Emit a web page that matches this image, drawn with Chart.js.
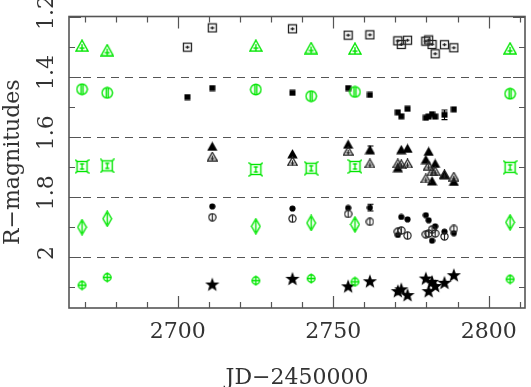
<!DOCTYPE html>
<html>
<head>
<meta charset="utf-8">
<script src="https://cdn.jsdelivr.net/npm/chart.js@4/dist/chart.umd.min.js"></script>
<style>
  html, body { margin: 0; padding: 0; background: #ffffff; }
  #c { display: block; }
</style>
</head>
<body>
<canvas id="c" width="531" height="387"></canvas>
<script>
// ---------------- DATA ----------------
// Comparison star epochs (JD-2450000)
const compJD = [2669.2, 2677.3, 2725.1, 2742.9, 2757.0, 2806.9];
// Comparison stars (green), one per band
const compTri  = [1.297, 1.312, 1.297, 1.305, 1.307, 1.306];
const compCirc = [1.442, 1.454, 1.443, 1.465, 1.451, 1.457];
const compSq   = [1.699, 1.697, 1.709, 1.705, 1.699, 1.702];
const compDiam = [1.901, 1.873, 1.898, 1.887, 1.892, 1.885];
const compPlus = [2.094, 2.068, 2.079, 2.072, 2.083, 2.074];

// Target epochs (JD-2450000)
const targJD = [2703.1, 2711.1, 2736.9, 2754.8, 2761.8, 2770.8, 2771.9, 2773.9,
                2779.8, 2780.7, 2781.8, 2782.8, 2785.8, 2788.8];
// Target magnitudes (black), offset bands
const openSq   = [1.302, 1.238, 1.241, 1.262, 1.261, 1.281, 1.293, 1.279,
                  1.282, 1.278, 1.293, 1.324, 1.294, 1.304];
const fillSq   = [1.468, 1.438, 1.454, 1.438, 1.461, 1.519, 1.532, 1.507,
                  1.537, 1.533, 1.525, 1.533, 1.527, 1.509];
const fillSqErr= [0, 0, 0, 0, 0, 0, 0, 0, 0, 0, 0, 0, 0.016, 0];
const fillTri  = [null, 1.632, 1.657, 1.625, 1.643, 1.703, 1.643, 1.639,
                  1.676, 1.649, 1.747, 1.689, 1.727, 1.749];
const fillTriErr = [0, 0, 0, 0, 0.012, 0, 0, 0, 0, 0, 0, 0, 0, 0];
const openTri  = [null, 1.666, 1.682, 1.647, 1.689, 1.689, 1.692, 1.689,
                  1.739, 1.696, 1.715, 1.715, 1.725, 1.733];
const fillCirc = [null, 1.832, 1.839, 1.837, 1.836, 1.927, 1.867, 1.875,
                  1.861, 1.878, 1.946, 1.898, 1.916, 1.921];
const fillCircErr = [0, 0, 0, 0, 0.011, 0, 0, 0, 0, 0, 0, 0, 0, 0];
const openCirc = [null, 1.868, 1.873, 1.857, 1.883, 1.916, 1.912, 1.929,
                  1.925, 1.922, 1.909, 1.922, 1.932, 1.907];
const stars    = [null, 2.092, 2.073, 2.098, 2.081, 2.114, 2.108, 2.127,
                  2.072, 2.114, 2.083, 2.097, 2.086, 2.061];

// Axis ticks and labels
const xMajor = [2700, 2750, 2800];
const xMinor = [2670, 2680, 2690, 2710, 2720, 2730, 2740, 2760, 2770, 2780, 2790, 2810];
const yMajor = [1.2, 1.4, 1.6, 1.8, 2.0];
const yMajorLabels = ["1.2", "1.4", "1.6", "1.8", "2"];
const yMinor = [1.3, 1.5, 1.7, 1.9, 2.1];
const bandSeparators = [1.4, 1.6, 1.8, 2.0];
const xTitle = "JD\u22122450000";
const yTitle = "R\u2212magnitudes";

// ---------------- MARKERS ----------------
const GREEN = 'rgb(0,230,0)';
function mk(w, h, draw) {
  const c = document.createElement('canvas');
  c.width = w; c.height = h;
  const g = c.getContext('2d');
  draw(g, w, h);
  return c;
}
const mGreenTri = mk(14, 13, g => {
  g.strokeStyle = GREEN; g.lineWidth = 1.4;
  g.beginPath(); g.moveTo(7, 1); g.lineTo(13, 12); g.lineTo(1, 12); g.closePath(); g.stroke();
  g.beginPath(); g.moveTo(7, 5); g.lineTo(7, 12); g.moveTo(4.5, 9); g.lineTo(9.5, 9); g.stroke();
});
const mGreenCirc = mk(13, 13, g => {
  g.strokeStyle = GREEN; g.lineWidth = 1.4;
  g.beginPath(); g.arc(6.5, 6.5, 5.2, 0, Math.PI * 2); g.stroke();
  g.beginPath(); g.moveTo(5.5, 2); g.lineTo(5.5, 11); g.moveTo(7.5, 2); g.lineTo(7.5, 11); g.stroke();
});
const mGreenSq = mk(15, 15, g => {
  g.strokeStyle = GREEN; g.lineWidth = 1.4;
  g.strokeRect(2.5, 2.5, 10, 10);
  g.beginPath();
  g.moveTo(0.5, 0.5); g.lineTo(2.5, 2.5); g.moveTo(14.5, 0.5); g.lineTo(12.5, 2.5);
  g.moveTo(0.5, 14.5); g.lineTo(2.5, 12.5); g.moveTo(14.5, 14.5); g.lineTo(12.5, 12.5);
  g.moveTo(7.5, 5); g.lineTo(7.5, 10); g.moveTo(5.5, 5); g.lineTo(9.5, 5); g.moveTo(5.5, 10); g.lineTo(9.5, 10);
  g.stroke();
});
const mGreenDiam = mk(11, 17, g => {
  g.strokeStyle = GREEN; g.lineWidth = 1.4;
  g.beginPath(); g.moveTo(5.5, 1); g.lineTo(9.8, 8.5); g.lineTo(5.5, 16); g.lineTo(1.2, 8.5); g.closePath(); g.stroke();
  g.beginPath(); g.moveTo(5.5, 3); g.lineTo(5.5, 14); g.stroke();
});
const mGreenPlus = mk(11, 11, g => {
  g.strokeStyle = GREEN; g.lineWidth = 1.4;
  g.beginPath(); g.arc(5.5, 5.5, 3.7, 0, Math.PI * 2); g.stroke();
  g.beginPath(); g.moveTo(5.5, 0.5); g.lineTo(5.5, 10.5); g.moveTo(1, 5.5); g.lineTo(10, 5.5); g.stroke();
});
const mOpenSq = mk(11, 11, g => {
  g.strokeStyle = '#222'; g.lineWidth = 1.3;
  g.strokeRect(1.5, 1.5, 8, 8);
  g.beginPath(); g.moveTo(3.5, 5.5); g.lineTo(7.5, 5.5); g.moveTo(5.5, 4); g.lineTo(5.5, 7); g.stroke();
});
const mFillSq = mk(7, 7, g => { g.fillStyle = '#000'; g.fillRect(0.5, 0.5, 6, 6); });
const mFillTri = mk(11, 10, g => {
  g.fillStyle = '#000';
  g.beginPath(); g.moveTo(5.5, 0.3); g.lineTo(10.7, 9.5); g.lineTo(0.3, 9.5); g.closePath(); g.fill();
});
const mOpenTri = mk(11, 10, g => {
  g.strokeStyle = '#222'; g.lineWidth = 1.3;
  g.beginPath(); g.moveTo(5.5, 0.8); g.lineTo(10.3, 9.2); g.lineTo(0.7, 9.2); g.closePath(); g.stroke();
  g.beginPath(); g.moveTo(5.5, 4); g.lineTo(5.5, 9); g.moveTo(3.5, 6.8); g.lineTo(7.5, 6.8); g.stroke();
});
const mFillCirc = mk(7, 7, g => {
  g.fillStyle = '#000'; g.beginPath(); g.arc(3.5, 3.5, 3.1, 0, Math.PI * 2); g.fill();
});
const mOpenCirc = mk(9, 9, g => {
  g.strokeStyle = '#222'; g.lineWidth = 1.2;
  g.beginPath(); g.arc(4.5, 4.5, 3.6, 0, Math.PI * 2); g.stroke();
  g.beginPath(); g.moveTo(4.5, 1); g.lineTo(4.5, 8); g.stroke();
});
const mStar = mk(16, 16, g => {
  g.fillStyle = '#000'; g.beginPath();
  for (let i = 0; i < 10; i++) {
    const r = (i % 2 === 0) ? 7.5 : 3.1;
    const a = -Math.PI / 2 + i * Math.PI / 5;
    const px = 8 + r * Math.cos(a), py = 8.4 + r * Math.sin(a);
    if (i === 0) g.moveTo(px, py); else g.lineTo(px, py);
  }
  g.closePath(); g.fill();
});

function pts(xs, ys) {
  const out = [];
  for (let i = 0; i < xs.length; i++) if (ys[i] !== null) out.push({ x: xs[i], y: ys[i] });
  return out;
}
function errs(ys, es) {
  const out = [];
  for (let i = 0; i < ys.length; i++) if (ys[i] !== null) out.push(es[i]);
  return out;
}
function ds(data, img, extra) {
  return Object.assign({ data: data, pointStyle: img, pointRadius: 5, showLine: false }, extra || {});
}

const datasets = [
  ds(pts(compJD, compTri), mGreenTri),
  ds(pts(compJD, compCirc), mGreenCirc),
  ds(pts(compJD, compSq), mGreenSq),
  ds(pts(compJD, compDiam), mGreenDiam),
  ds(pts(compJD, compPlus), mGreenPlus),
  ds(pts(targJD, openSq), mOpenSq),
  ds(pts(targJD, fillSq), mFillSq, { errs: errs(fillSq, fillSqErr) }),
  ds(pts(targJD, openTri), mOpenTri),
  ds(pts(targJD, fillTri), mFillTri, { errs: errs(fillTri, fillTriErr) }),
  ds(pts(targJD, openCirc), mOpenCirc),
  ds(pts(targJD, fillCirc), mFillCirc, { errs: errs(fillCirc, fillCircErr) }),
  ds(pts(targJD, stars), mStar)
];

// ---------------- PLUGINS ----------------
const FONT = '22px "DejaVu Serif", serif';
const frame = {
  id: 'frame',
  beforeDatasetsDraw(chart) {
    const { ctx, chartArea: a, scales: { y } } = chart;
    ctx.save();
    ctx.strokeStyle = '#555'; ctx.lineWidth = 1.2; ctx.setLineDash([8, 6]);
    bandSeparators.forEach(v => {
      const py = Math.round(y.getPixelForValue(v)) + 0.5;
      ctx.beginPath(); ctx.moveTo(a.left, py); ctx.lineTo(a.right, py); ctx.stroke();
    });
    ctx.restore();
  },
  afterDatasetsDraw(chart) {
    const { ctx, chartArea: a, scales: { x, y } } = chart;
    ctx.save();
    // error bars
    ctx.strokeStyle = '#000'; ctx.lineWidth = 1.1;
    chart.data.datasets.forEach(d => {
      if (!d.errs) return;
      d.data.forEach((p, i) => {
        const e = d.errs[i];
        if (!e) return;
        const px = Math.round(x.getPixelForValue(p.x)) + 0.5;
        const y1 = y.getPixelForValue(p.y - e), y2 = y.getPixelForValue(p.y + e);
        ctx.beginPath();
        ctx.moveTo(px, y1); ctx.lineTo(px, y2);
        ctx.moveTo(px - 3, y1); ctx.lineTo(px + 3, y1);
        ctx.moveTo(px - 3, y2); ctx.lineTo(px + 3, y2);
        ctx.stroke();
      });
    });
    // frame
    ctx.strokeStyle = '#555'; ctx.lineWidth = 1.6;
    ctx.strokeRect(a.left, a.top, a.right - a.left, a.bottom - a.top);
    // ticks
    ctx.lineWidth = 1.2;
    const xt = (v, len) => {
      const px = Math.round(x.getPixelForValue(v)) + 0.5;
      ctx.beginPath();
      ctx.moveTo(px, a.bottom); ctx.lineTo(px, a.bottom - len);
      ctx.moveTo(px, a.top); ctx.lineTo(px, a.top + len);
      ctx.stroke();
    };
    const yt = (v, len) => {
      const py = Math.round(y.getPixelForValue(v)) + 0.5;
      ctx.beginPath();
      ctx.moveTo(a.left, py); ctx.lineTo(a.left + len, py);
      ctx.moveTo(a.right, py); ctx.lineTo(a.right - len, py);
      ctx.stroke();
    };
    xMajor.forEach(v => xt(v, 12));
    xMinor.forEach(v => xt(v, 6));
    yMajor.forEach(v => yt(v, 12));
    yMinor.forEach(v => yt(v, 6));
    // labels
    ctx.fillStyle = '#333'; ctx.font = FONT;
    ctx.textAlign = 'center'; ctx.textBaseline = 'alphabetic';
    xMajor.forEach(v => ctx.fillText(String(v), x.getPixelForValue(v), 338));
    ctx.fillText(xTitle, (a.left + a.right) / 2, 384);
    yMajor.forEach((v, i) => {
      ctx.save();
      ctx.translate(53, y.getPixelForValue(v) - 4);
      ctx.rotate(-Math.PI / 2);
      ctx.fillText(yMajorLabels[i], 0, 0);
      ctx.restore();
    });
    ctx.save();
    ctx.translate(19, (a.top + a.bottom) / 2);
    ctx.rotate(-Math.PI / 2);
    ctx.fillText(yTitle, 0, 0);
    ctx.restore();
    ctx.restore();
  }
};

new Chart(document.getElementById('c'), {
  type: 'scatter',
  data: { datasets: datasets },
  options: {
    responsive: false,
    animation: false,
    devicePixelRatio: 1,
    layout: { padding: { left: 69, top: 16.5, right: 1.7, bottom: 79 } },
    plugins: { legend: { display: false }, tooltip: { enabled: false } },
    scales: {
      x: { type: 'linear', min: 2665, max: 2811.7, display: false },
      y: { type: 'linear', reverse: true, min: 1.2, max: 2.17, display: false }
    }
  },
  plugins: [frame]
});
</script>
</body>
</html>
